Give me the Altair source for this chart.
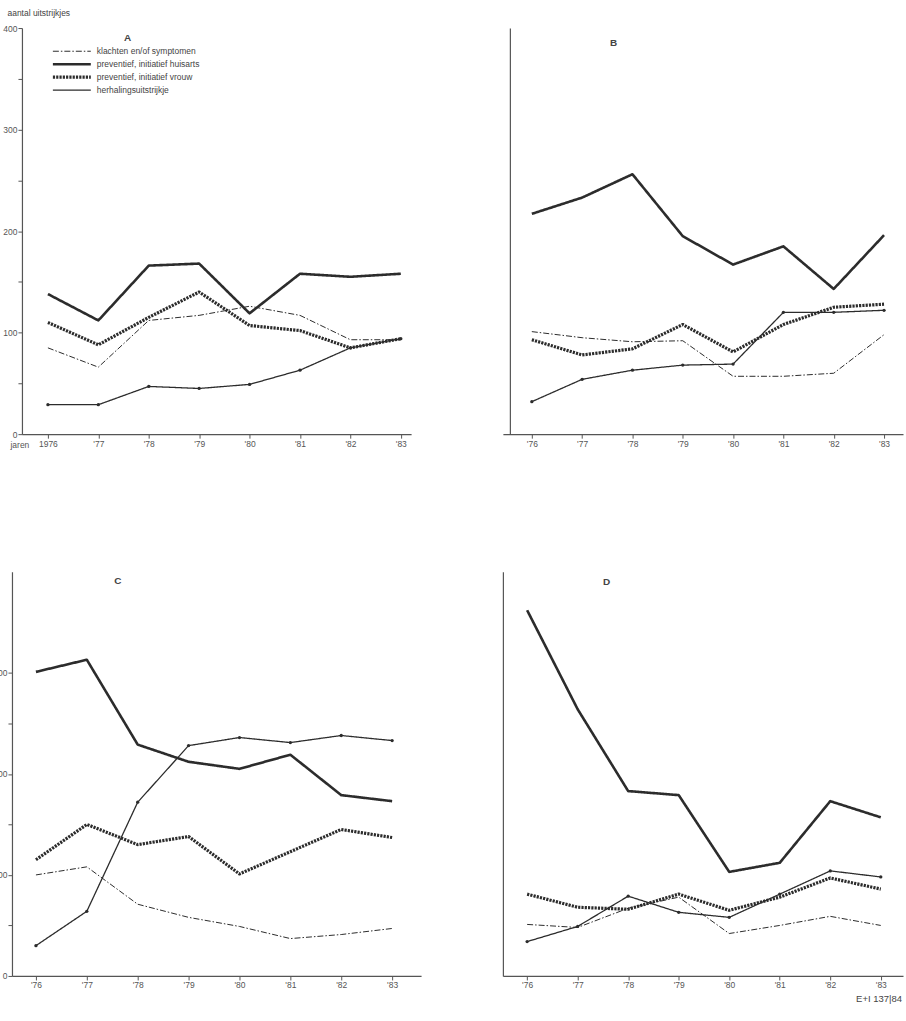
import altair as alt
import pandas as pd

# ---- data -----------------------------------------------------------------
jaren = [1976, 1977, 1978, 1979, 1980, 1981, 1982, 1983]
reeksen = [
    "klachten en/of symptomen",
    "preventief, initiatief huisarts",
    "preventief, initiatief vrouw",
    "herhalingsuitstrijkje",
]

# panel A
a_klachten = [85, 66, 112, 117, 126, 117, 93, 93]
a_huisarts = [138, 112, 166, 168, 119, 158, 155, 158]
a_vrouw = [110, 88, 115, 140, 107, 102, 85, 94]
a_herhaling = [29, 29, 47, 45, 49, 63, 85, 94]

# panel B
b_klachten = [101, 95, 91, 92, 57, 57, 60, 98]
b_huisarts = [217, 233, 256, 195, 167, 185, 143, 196]
b_vrouw = [93, 78, 84, 108, 81, 108, 125, 128]
b_herhaling = [32, 54, 63, 68, 69, 120, 120, 122]

# panel C
c_klachten = [100, 108, 71, 58, 49, 37, 41, 47]
c_huisarts = [301, 313, 229, 212, 205, 219, 179, 173]
c_vrouw = [115, 150, 130, 138, 101, 123, 145, 137]
c_herhaling = [30, 64, 172, 228, 236, 231, 238, 233]

# panel D
d_klachten = [51, 48, 67, 78, 42, 50, 59, 50]
d_huisarts = [362, 264, 183, 179, 103, 112, 173, 157]
d_vrouw = [81, 68, 66, 81, 65, 78, 97, 86]
d_herhaling = [34, 49, 79, 63, 58, 81, 104, 98]

# line style per series
strepen = [[6, 2, 1.5, 2], [1, 0], [2.2, 1.1], [1, 0]]
diktes = [1.0, 2.6, 3.2, 1.3]

INK = "#2c2c2c"
GREY = "#555555"
FONT = "Liberation Sans"


def frame(series):
    rows = []
    for naam, waarden in zip(reeksen, series):
        for jaar, w in zip(jaren, waarden):
            rows.append({"jaar": jaar, "aantal": w, "reeks": naam})
    return pd.DataFrame(rows)


def panel(series, letter, letter_pos, x_domain, width, height,
          y_axis, x_axis, legend=None, extra=None):
    df = frame(series)
    x = alt.X("jaar:Q", scale=alt.Scale(domain=x_domain, nice=False, zero=False),
              axis=x_axis)
    y = alt.Y("aantal:Q", scale=alt.Scale(domain=[0, 400], nice=False), axis=y_axis)
    lijnen = alt.Chart(df).mark_line(color=INK, strokeCap="butt", strokeJoin="round").encode(
        x=x, y=y,
        strokeDash=alt.StrokeDash("reeks:N", scale=alt.Scale(domain=reeksen, range=strepen),
                                  legend=legend),
        strokeWidth=alt.StrokeWidth("reeks:N",
                                    scale=alt.Scale(type="ordinal", domain=reeksen, range=diktes),
                                    legend=legend),
        order="jaar:Q",
    )
    punten = alt.Chart(df).transform_filter(
        alt.datum.reeks == reeksen[3]
    ).mark_circle(color=INK, size=11, opacity=1).encode(x=x, y=y)
    label = alt.Chart(pd.DataFrame({"t": [letter]})).mark_text(
        font=FONT, fontSize=10, fontWeight="bold", color="#444", align="center"
    ).encode(x=alt.value(letter_pos[0]), y=alt.value(letter_pos[1]), text="t:N")
    layers = [lijnen, punten, label]
    if extra is not None:
        layers.append(extra)
    return alt.layer(*layers).properties(width=width, height=height)


def x_axis(first_full, title=None, title_x=0):
    expr = "\"'\" + slice(toString(datum.value), 2)"
    if first_full:
        expr = "datum.value == 1976 ? '1976' : " + expr
    kw = dict(values=jaren, labelExpr=expr, grid=False, tickSize=4, labelPadding=1,
              labelFontSize=8.5, labelFont=FONT, labelColor=GREY, domainColor=GREY,
              tickColor=GREY, domainWidth=1.2)
    if title:
        kw.update(title=title, titleX=title_x, titleY=10, titleAlign="left",
                  titleBaseline="middle", titleFont=FONT, titleFontSize=8.5,
                  titleFontWeight="normal", titleColor=GREY)
    else:
        kw.update(title=None)
    return alt.Axis(**kw)


def y_axis_labels(top, title=None):
    kw = dict(values=list(range(0, top + 1, 50)),
              labelExpr="datum.value % 100 == 0 ? datum.label : ''",
              grid=False, tickSize=4, labelPadding=1, labelFontSize=8.5, labelFont=FONT,
              labelColor=GREY, domainColor=GREY, tickColor=GREY, domainWidth=1.2)
    if title:
        kw.update(title=title, titleAngle=0, titleX=-15, titleY=-16, titleAlign="left",
                  titleBaseline="middle", titleFont=FONT, titleFontSize=8.5,
                  titleFontWeight="normal", titleColor="#444")
    else:
        kw.update(title=None)
    return alt.Axis(**kw)


def y_axis_plain(shift):
    # the vertical axis sits a few pixels inside the plot, so the baseline overshoots it
    return alt.Axis(labels=False, ticks=False, title=None, grid=False, offset=-shift,
                    domainColor=GREY, domainWidth=1.2)


legenda = alt.Legend(
    title=None, orient="none", legendX=29, legendY=17, symbolType="stroke",
    symbolSize=1444, symbolStrokeColor=INK, labelFont=FONT, labelFontSize=8.5,
    labelColor="#444", labelOffset=4, rowPadding=0, clipHeight=12.5, padding=0,
)

voetnoot = alt.Chart(pd.DataFrame({"t": ["E+I  137|84"]})).mark_text(
    font=FONT, fontSize=9.5, color="#444", align="left", baseline="middle"
).encode(x=alt.value(354), y=alt.value(428), text="t:N")

paneel_a = panel([a_klachten, a_huisarts, a_vrouw, a_herhaling], "A", (106, 10),
                 [1975.485, 1983.204], 390, 407,
                 y_axis_labels(400, "aantal uitstrijkjes"),
                 x_axis(True, "jaren", -12), legend=legenda)
paneel_b = panel([b_klachten, b_huisarts, b_vrouw, b_herhaling], "B", (111, 15),
                 [1975.425, 1983.377], 401, 407, y_axis_plain(7), x_axis(False))
paneel_c = panel([c_klachten, c_huisarts, c_vrouw, c_herhaling], "C", (106, 9),
                 [1975.529, 1983.569], 410, 405, y_axis_labels(300), x_axis(False))
paneel_d = panel([d_klachten, d_huisarts, d_vrouw, d_herhaling], "D", (104, 10),
                 [1975.52, 1983.44], 401, 405, y_axis_plain(0), x_axis(False),
                 extra=voetnoot)

# 2x2 grid; narrower panels are centred in their column
chart = alt.concat(
    paneel_a, paneel_b, paneel_c, paneel_d,
    columns=2, spacing={"row": 138, "column": 82}, bounds="flush", center=True,
).resolve_scale(
    strokeDash="independent", strokeWidth="independent"
).properties(
    padding={"left": -8, "top": 6, "right": 0, "bottom": 0},
    background="white",
).configure_view(stroke="transparent")

chart.save("out.html", embed_options={"renderer": "svg", "actions": False})
